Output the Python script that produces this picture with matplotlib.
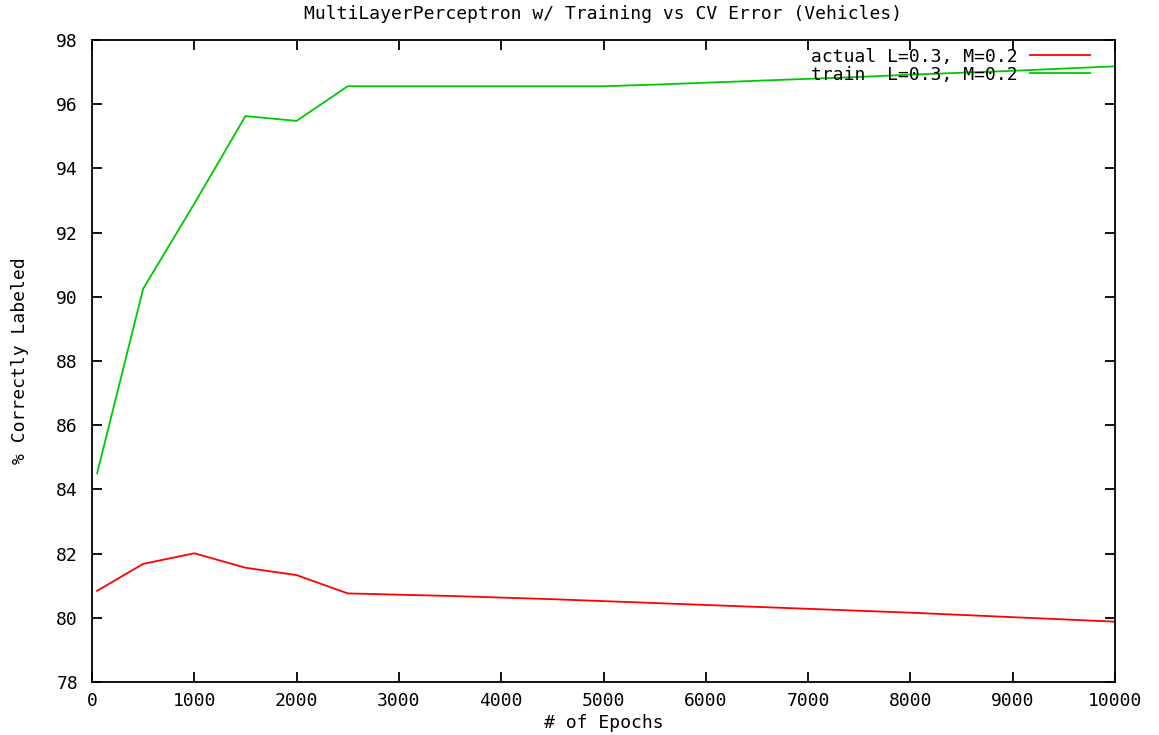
import numpy as np
import matplotlib.pyplot as plt

epochs = [50, 500, 1000, 1500, 2000, 2500, 3000, 3500, 4000, 4500, 5000,
          5500, 6000, 6500, 7000, 7500, 8000, 8500, 9000, 9500, 10000]

actual = [80.84, 81.68, 82.01, 81.56, 81.33, 80.76, 80.72, 80.68, 80.63, 80.58, 80.52,
          80.46, 80.40, 80.34, 80.28, 80.22, 80.16, 80.09, 80.02, 79.95, 79.88]

train = [84.5, 90.25, 92.9, 95.63, 95.48, 96.56, 96.56, 96.56, 96.56, 96.56, 96.56,
         96.61, 96.67, 96.73, 96.79, 96.85, 96.92, 96.98, 97.04, 97.11, 97.18]

labels = ['actual L=0.3, M=0.2', 'train  L=0.3, M=0.2']

plt.rcParams['font.family'] = ['DejaVu Sans Mono']

fig = plt.figure(figsize=(11.59, 7.35), dpi=100)
ax = fig.add_axes([92 / 1159, 1 - 682 / 735, (1115 - 92) / 1159, (682 - 40) / 735])

ax.plot(epochs, actual, color='#ff0000', lw=1.3, label=labels[0])
ax.plot(epochs, train, color='#00c800', lw=1.3, label=labels[1])

ax.set_xlim(0, 10000)
ax.set_ylim(78, 98)
ax.set_xticks(np.arange(0, 10001, 1000))
ax.set_yticks(np.arange(78, 99, 2))
ax.tick_params(direction='in', top=True, right=True, length=7, width=1.3,
               labelsize=13, colors='black')
ax.tick_params(axis='y', pad=10)
ax.tick_params(axis='x', pad=7)
for s in ax.spines.values():
    s.set_linewidth(1.3)

ax.set_title('MultiLayerPerceptron w/ Training vs CV Error (Vehicles)', fontsize=13, pad=15)
ax.set_xlabel('# of Epochs', fontsize=13, labelpad=3)
ax.set_ylabel('% Correctly Labeled', fontsize=13, labelpad=20)

ax.legend(loc='upper right', frameon=False, markerfirst=False, fontsize=13,
          handlelength=3.3, handletextpad=0.7, labelspacing=0.0,
          borderpad=0, borderaxespad=0, bbox_to_anchor=(0.9756, 0.988))

fig.savefig('out.png', dpi=100)
